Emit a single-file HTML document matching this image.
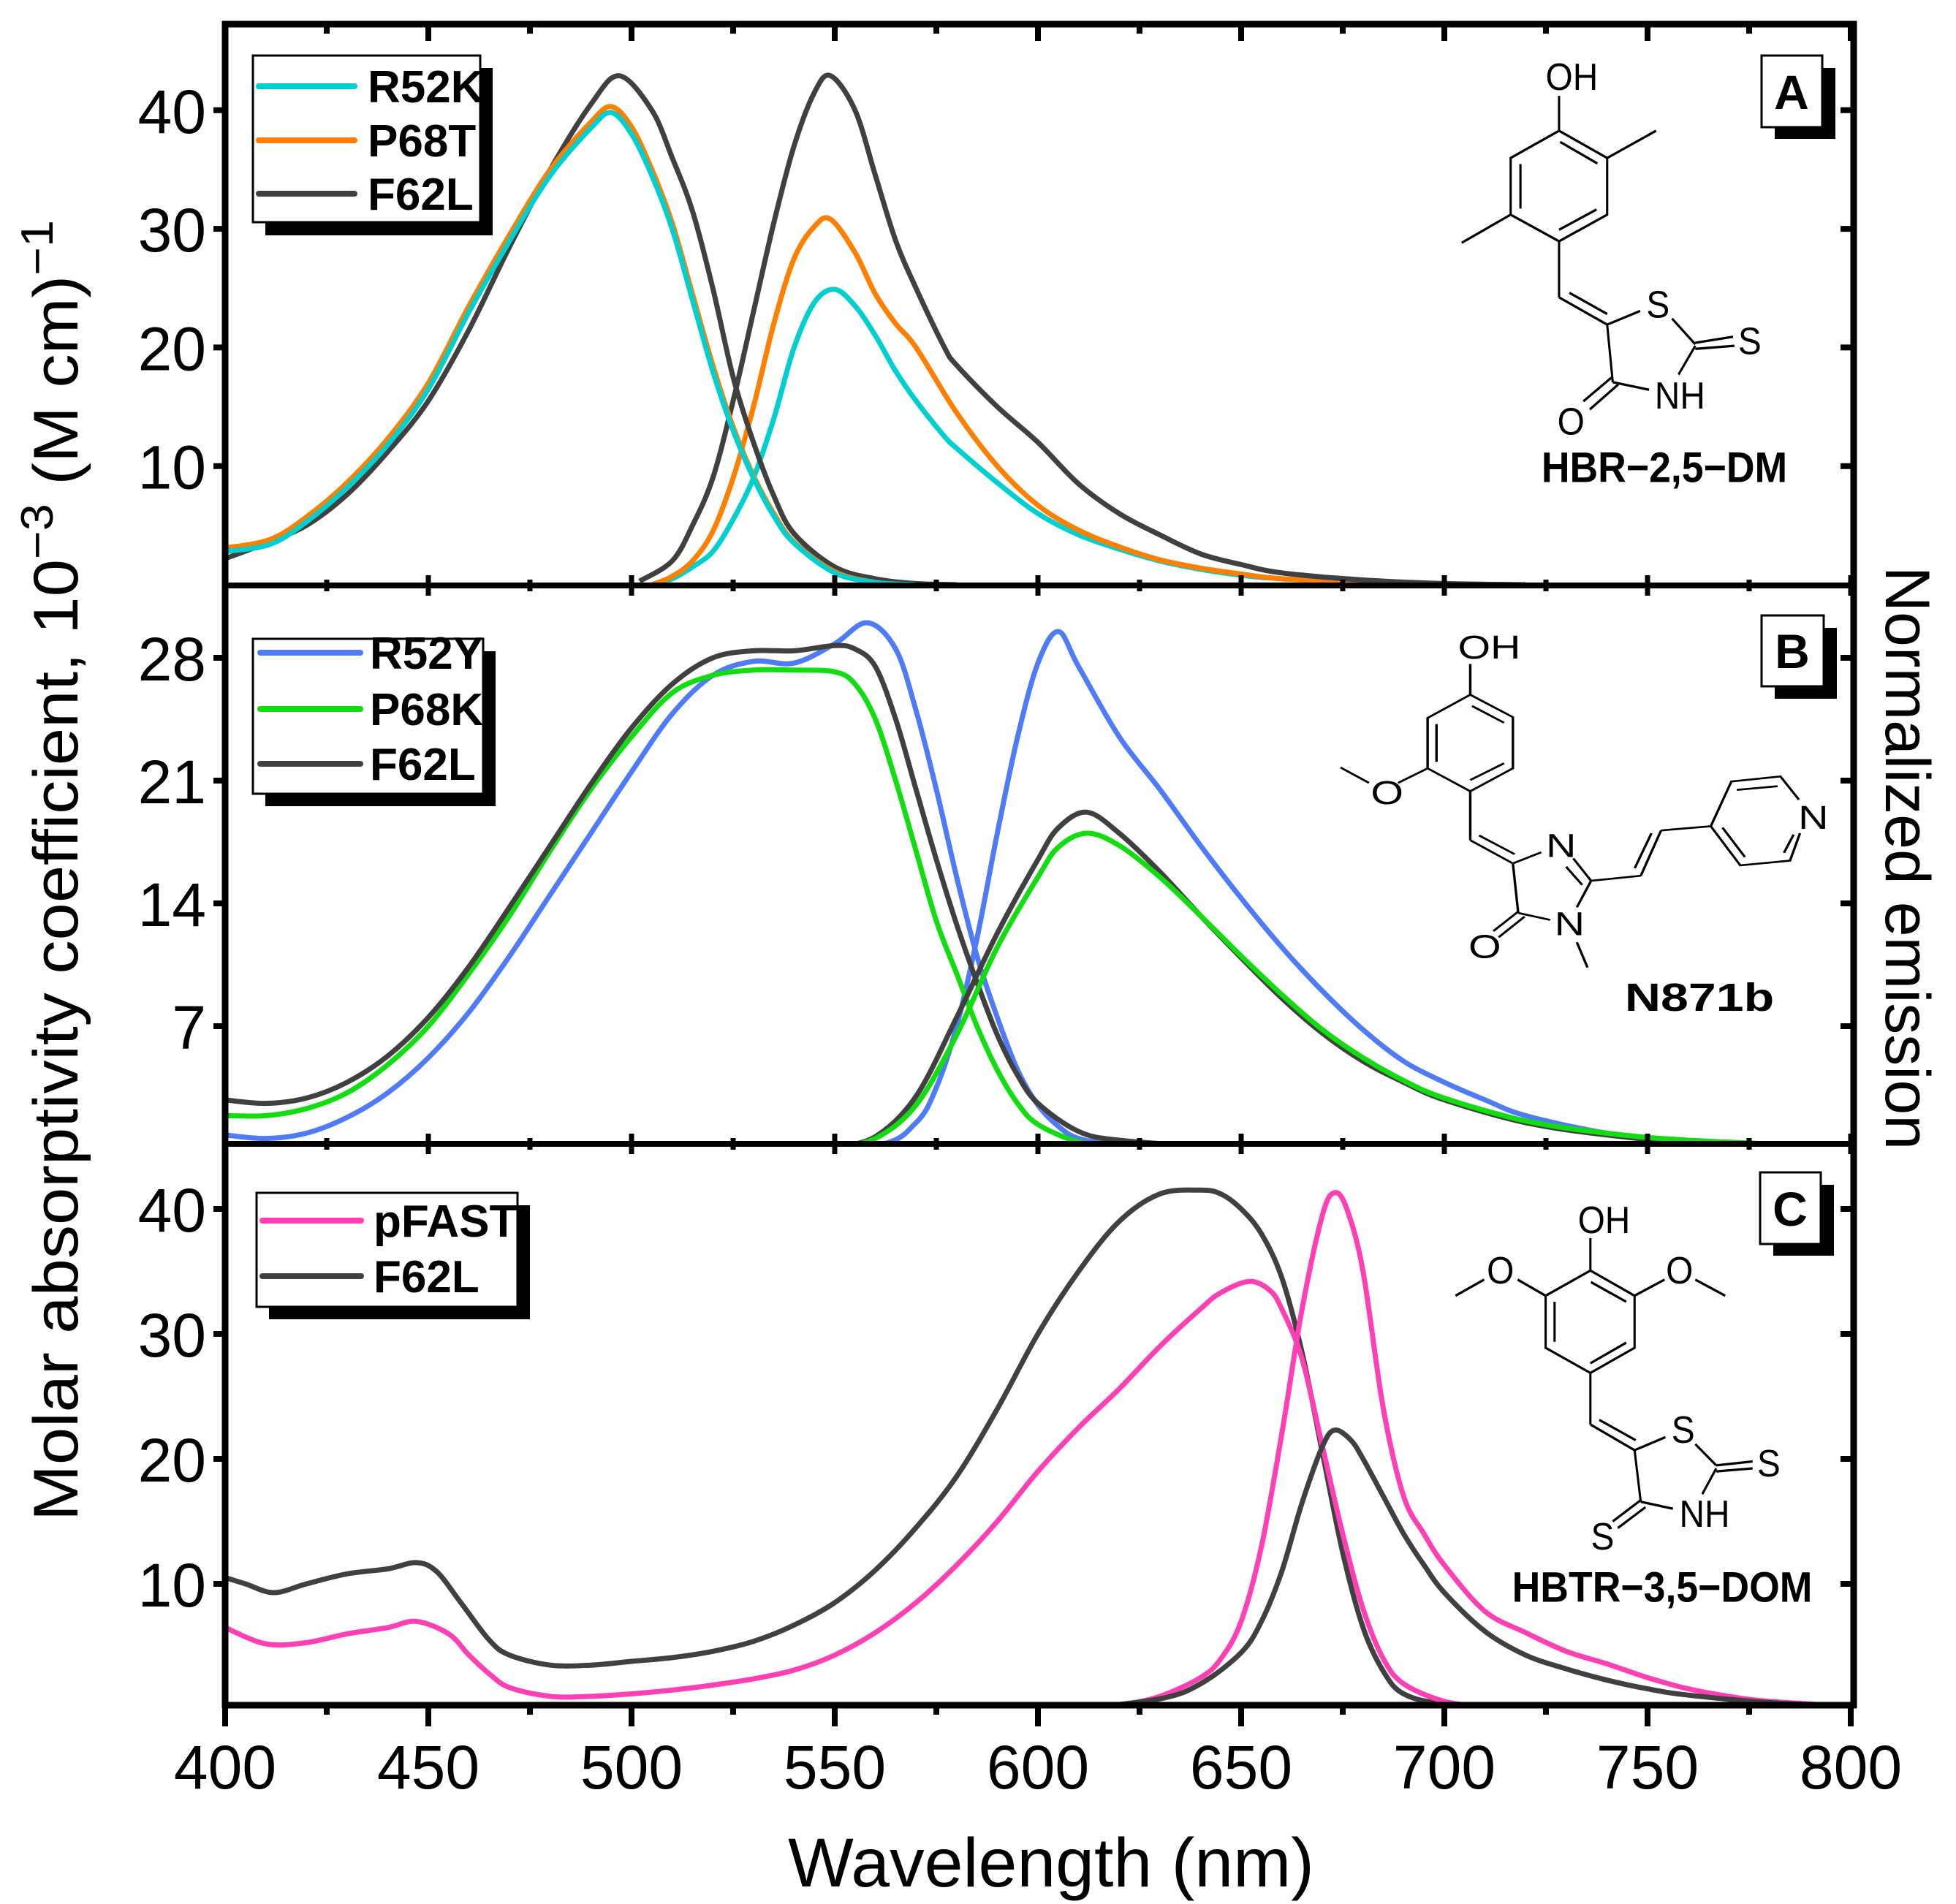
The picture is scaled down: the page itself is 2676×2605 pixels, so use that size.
<!DOCTYPE html>
<html><head><meta charset="utf-8"><style>
html,body{margin:0;padding:0;background:#fff;}
svg{display:block;font-family:"Liberation Sans",Arial,sans-serif;}
</style></head><body>
<svg id="chart" width="2676" height="2605" viewBox="0 0 2676 2605" xmlns="http://www.w3.org/2000/svg">
<defs>
<clipPath id="clipA"><rect x="308" y="33" width="2228" height="768"/></clipPath>
<clipPath id="clipB"><rect x="308" y="801" width="2228" height="764"/></clipPath>
<clipPath id="clipC"><rect x="308" y="1565" width="2228" height="768"/></clipPath>
</defs>
<g id="series"></g>
<g id="axes"></g>

<!-- Legend A -->
<g>
<rect x="363" y="93" width="311" height="229" fill="#000"/>
<rect x="346" y="76" width="311" height="228" fill="#fff" stroke="#000" stroke-width="3"/>
<line x1="354" y1="118" x2="485" y2="118" stroke="#00CFCF" stroke-width="8" stroke-linecap="round"/>
<line x1="354" y1="192" x2="485" y2="192" stroke="#FF8000" stroke-width="8" stroke-linecap="round"/>
<line x1="354" y1="265" x2="485" y2="265" stroke="#404040" stroke-width="8" stroke-linecap="round"/>
<text x="503" y="140" font-size="62" font-weight="bold">R52K</text>
<text x="503" y="214" font-size="62" font-weight="bold">P68T</text>
<text x="503" y="287" font-size="62" font-weight="bold">F62L</text>
</g>
<!-- Legend B -->
<g>
<rect x="363" y="891" width="315" height="212" fill="#000"/>
<rect x="346" y="874" width="315" height="212" fill="#fff" stroke="#000" stroke-width="3"/>
<line x1="356" y1="893" x2="493" y2="893" stroke="#4F7BF7" stroke-width="8" stroke-linecap="round"/>
<line x1="356" y1="970" x2="493" y2="970" stroke="#11DD11" stroke-width="8" stroke-linecap="round"/>
<line x1="356" y1="1045" x2="493" y2="1045" stroke="#404040" stroke-width="8" stroke-linecap="round"/>
<text x="506" y="915" font-size="62" font-weight="bold">R52Y</text>
<text x="506" y="992" font-size="62" font-weight="bold">P68K</text>
<text x="506" y="1067" font-size="62" font-weight="bold">F62L</text>
</g>
<!-- Legend C -->
<g>
<rect x="368" y="1649" width="357" height="156" fill="#000"/>
<rect x="351" y="1632" width="357" height="156" fill="#fff" stroke="#000" stroke-width="3"/>
<line x1="359" y1="1670" x2="494" y2="1670" stroke="#FF40B4" stroke-width="8" stroke-linecap="round"/>
<line x1="359" y1="1746" x2="494" y2="1746" stroke="#404040" stroke-width="8" stroke-linecap="round"/>
<text x="511" y="1692" font-size="62" font-weight="bold">pFAST</text>
<text x="511" y="1768" font-size="62" font-weight="bold">F62L</text>
</g>

<!-- Panel labels -->
<g>
<rect x="2428" y="93" width="83" height="97" fill="#000"/>
<rect x="2410" y="76" width="83" height="98" fill="#fff" stroke="#000" stroke-width="3"/>
<text x="2451" y="149" font-size="66" font-weight="bold" text-anchor="middle">A</text>
</g>
<g>
<rect x="2428" y="859" width="85" height="97" fill="#000"/>
<rect x="2410" y="842" width="85" height="97" fill="#fff" stroke="#000" stroke-width="3"/>
<text x="2452" y="914" font-size="66" font-weight="bold" text-anchor="middle">B</text>
</g>
<g>
<rect x="2426" y="1621" width="83" height="97" fill="#000"/>
<rect x="2408" y="1604" width="83" height="98" fill="#fff" stroke="#000" stroke-width="3"/>
<text x="2449" y="1677" font-size="66" font-weight="bold" text-anchor="middle">C</text>
</g>

<!-- Molecule A -->
<g transform="translate(1950,40) scale(0.3827,0.4145)" stroke="#000" stroke-width="8" fill="none">
<polyline points="478,220 478,335"/>
<polygon points="478,335 650,425 650,612 478,700 305,612 305,425"/>
<line x1="482" y1="372" x2="615" y2="443"/><line x1="340" y1="445" x2="340" y2="592"/><line x1="478" y1="662" x2="612" y2="595"/>
<line x1="650" y1="425" x2="825" y2="335"/><line x1="305" y1="612" x2="130" y2="705"/>
<line x1="478" y1="700" x2="478" y2="885"/><line x1="478" y1="885" x2="650" y2="975"/><line x1="515" y1="870" x2="650" y2="940"/>
<line x1="650" y1="975" x2="768" y2="930"/><line x1="882" y1="955" x2="965" y2="1040"/>
<line x1="965" y1="1035" x2="1100" y2="1015"/><line x1="965" y1="1055" x2="1105" y2="1045"/>
<line x1="965" y1="1045" x2="905" y2="1140"/>
<line x1="650" y1="975" x2="670" y2="1165"/><line x1="670" y1="1165" x2="800" y2="1190"/>
<line x1="690" y1="1172" x2="588" y2="1255"/><line x1="665" y1="1150" x2="565" y2="1228"/>
<g fill="#000" stroke="none" font-size="125">
<text x="430" y="200">OH</text><text x="790" y="952">S</text><text x="1118" y="1072">S</text><text x="820" y="1252">NH</text><text x="472" y="1338">O</text>
<text x="415" y="1495" font-size="140" font-weight="bold">HBR−2,5−DM</text>
</g>
</g>

<!-- Molecule B -->
<g transform="translate(1800,830) scale(0.4861,0.3827)" stroke="#000" stroke-width="7" fill="none">
<line x1="435" y1="205" x2="435" y2="315"/>
<polygon points="435,315 555,395 555,578 435,660 315,578 315,398"/>
<line x1="440" y1="355" x2="530" y2="415"/><line x1="340" y1="420" x2="340" y2="555"/><line x1="435" y1="620" x2="530" y2="560"/>
<line x1="315" y1="578" x2="232" y2="630"/><line x1="150" y1="630" x2="70" y2="575"/>
<line x1="435" y1="660" x2="435" y2="835"/><line x1="435" y1="835" x2="555" y2="918"/><line x1="460" y1="818" x2="560" y2="885"/>
<line x1="555" y1="918" x2="635" y2="878"/>
<line x1="725" y1="900" x2="775" y2="980"/><line x1="705" y1="930" x2="750" y2="995"/>
<line x1="775" y1="980" x2="735" y2="1075"/>
<line x1="555" y1="918" x2="570" y2="1095"/><line x1="570" y1="1095" x2="660" y2="1120"/>
<line x1="570" y1="1090" x2="500" y2="1160"/><line x1="588" y1="1108" x2="515" y2="1182"/>
<line x1="735" y1="1200" x2="765" y2="1290"/>
<line x1="775" y1="980" x2="915" y2="962"/><line x1="915" y1="962" x2="972" y2="800"/><line x1="898" y1="935" x2="945" y2="810"/><line x1="972" y1="800" x2="1112" y2="785"/>
<polyline points="1360,690 1308,607 1170,625 1112,785 1195,925 1335,908 1363,810"/>
<line x1="1185" y1="655" x2="1300" y2="642"/><line x1="1318" y1="880" x2="1345" y2="815"/><line x1="1145" y1="790" x2="1208" y2="895"/>
<g fill="#000" stroke="none" font-size="118">
<text x="400" y="185">OH</text><text x="155" y="705">O</text><text x="648" y="895">N</text><text x="672" y="1175">N</text><text x="430" y="1255">O</text><text x="1358" y="795">N</text>
<text x="870" y="1445" font-size="140" font-weight="bold">N871b</text>
</g>
</g>

<!-- Molecule C -->
<g transform="translate(1950,1580) scale(0.3827,0.4145)" stroke="#000" stroke-width="8" fill="none">
<line x1="590" y1="275" x2="590" y2="382"/>
<polygon points="590,382 748,465 748,637 590,720 430,637 430,465"/>
<line x1="592" y1="420" x2="718" y2="485"/><line x1="462" y1="485" x2="462" y2="617"/><line x1="590" y1="688" x2="718" y2="620"/>
<line x1="430" y1="465" x2="330" y2="412"/><line x1="210" y1="412" x2="108" y2="465"/>
<line x1="748" y1="465" x2="855" y2="412"/><line x1="965" y1="412" x2="1072" y2="465"/>
<line x1="590" y1="720" x2="590" y2="890"/><line x1="590" y1="890" x2="748" y2="975"/><line x1="622" y1="875" x2="752" y2="942"/>
<line x1="748" y1="975" x2="858" y2="932"/><line x1="965" y1="955" x2="1040" y2="1025"/>
<line x1="1040" y1="1025" x2="1170" y2="1012"/><line x1="1040" y1="1045" x2="1170" y2="1035"/>
<line x1="1040" y1="1035" x2="990" y2="1120"/>
<line x1="748" y1="975" x2="770" y2="1145"/><line x1="770" y1="1145" x2="885" y2="1168"/>
<line x1="770" y1="1140" x2="670" y2="1210"/><line x1="787" y1="1163" x2="688" y2="1232"/>
<g fill="#000" stroke="none" font-size="125">
<text x="545" y="258">OH</text><text x="220" y="425">O</text><text x="860" y="425">O</text><text x="880" y="950">S</text><text x="1186" y="1062">S</text><text x="908" y="1228">NH</text><text x="592" y="1303">S</text>
<text x="310" y="1475" font-size="140" font-weight="bold">HBTR−3,5−DOM</text>
</g>
</g>

<!-- Axis titles -->
<text x="1438" y="2581" font-size="95" text-anchor="middle">Wavelength (nm)</text>
<text transform="translate(106,1191) rotate(-90)" font-size="86" text-anchor="middle" textLength="1780" lengthAdjust="spacingAndGlyphs">Molar absorptivity coefficient, 10<tspan font-size="62" dy="-34">−3</tspan><tspan dy="34"> (M cm)</tspan><tspan font-size="62" dy="-34">−1</tspan></text>
<text transform="translate(2580,1174) rotate(90)" font-size="86" text-anchor="middle">Normalized emission</text>
</svg>
<script>
// ---------- data ----------
// Panel A
const aR52KAbsWl = [400,411,420,430,440,450,460,470,480,490,495,500,505,510,515,520,525,530,535,540,550,560,570];
const aR52KAbsVal = [2.8,3.4,5.3,8.2,11.8,16.5,23,29,34.5,38.5,39.8,38,34.5,30,24,18,13,9,5.8,3.5,1,0.2,0];
const aP68TAbsWl = [400,411,420,430,440,450,460,470,480,490,495,500,505,510,515,520,525,530,535,540,550,560,570];
const aP68TAbsVal = [3.1,3.8,5.7,8.6,12.3,17,23.5,29.5,35,39,40.3,38.6,35,30.5,24.5,18.5,13.3,9.2,6,3.6,1.1,0.2,0];
const aF62LAbsWl = [400,410,420,430,440,450,460,470,480,490,497,505,510,515,520,525,530,535,540,550,560,570,580];
const aF62LAbsVal = [2.2,3.5,5,7.6,11.2,15.5,21.5,28.5,35,40.5,42.9,40,36,31.5,25,17.5,12,7.5,4.3,1.5,0.5,0.1,0];
const aR52KEmWl = [505,510,515,520,525,530,535,540,545,550,555,560,565,570,577,580,590,600,610,620,630,640,650,660,680,700];
const aR52KEmVal = [0,0.5,1.5,2.8,5.5,9,14,20,23.8,24.9,23.5,21,18,15.5,12.5,11.5,8.6,6,4.2,3,2,1.3,0.8,0.5,0.2,0];
const aP68TEmWl = [505,510,515,520,525,530,535,540,545,549,555,560,565,570,580,590,600,610,620,630,640,650,660,680,700];
const aP68TEmVal = [0,0.7,2,4.5,9,15,22,27.5,30.2,30.8,28,24.5,22,20,14.5,10,6.7,4.6,3.2,2.1,1.4,0.9,0.5,0.2,0];
const aF62LEmWl = [502,510,515,520,525,530,535,540,545,549,555,560,565,570,577,580,590,600,610,620,630,640,650,660,680,700,720];
const aF62LEmVal = [0.3,2,5,9,15.5,23,30.5,37,41.5,42.9,40,34.5,29,25,20,18.5,15,12,8.5,6,4.2,2.6,1.7,1.0,0.4,0.1,0];
// Panel B
const bR52YAbsWl = [400,410,420,430,440,450,460,470,480,490,500,510,520,530,540,550,558,565,570,575,580,585,590,595,600,605,610,620,630];
const bR52YAbsVal = [0.8,0.6,0.9,1.8,3.2,5.2,7.8,11,14.5,18,21.5,24.8,27,27.8,27.7,28.8,30,28.5,25,20.5,15.5,11,7.5,4.5,2.5,1.3,0.6,0.2,0];
const bP68KAbsWl = [400,410,420,430,440,450,460,470,480,490,500,510,520,530,540,550,555,560,565,570,575,580,585,590,595,600,610,620];
const bP68KAbsVal = [1.9,1.9,2.3,3.2,4.8,7,10,13.3,17,20.5,23.5,26,27,27.3,27.3,27.2,26.5,24.5,21,17,13,10,7,4.5,2.6,1.4,0.4,0.1];
const bF62LAbsWl = [400,410,420,430,440,450,460,470,480,490,500,510,520,530,540,550,555,560,565,570,575,580,585,590,595,600,610,620,640,680];
const bF62LAbsVal = [2.8,2.6,2.9,3.8,5.3,7.5,10.4,13.8,17.3,20.8,24,26.5,28,28.4,28.4,28.7,28.5,27.5,24.5,20.5,16.5,12.8,9.5,6.5,4.2,2.6,1,0.5,0.2,0];
const bR52YEmWl = [530,560,570,575,580,585,590,595,600,605,610,620,630,640,650,660,670,680,690,700,710,720,740,760,800];
const bR52YEmVal = [0,0.2,1.5,3.5,7,12,18,23.5,27.7,29.5,27.5,23.5,20.5,17.3,14.3,11.5,9,6.8,5,3.8,2.8,1.9,0.9,0.4,0];
const bP68KEmWl = [550,560,570,580,590,600,605,612,620,630,640,650,660,670,680,690,700,720,740,760,800];
const bP68KEmVal = [0.1,0.6,2.5,6.5,11.5,15.5,17.2,18,17.3,15.5,13.3,11,8.8,6.8,5.2,3.9,2.9,1.6,0.9,0.5,0.1];
const bF62LEmWl = [550,560,570,580,590,600,605,612,620,630,640,650,660,670,680,690,700,720,740,760,800];
const bF62LEmVal = [0.1,0.7,3,7.5,12.3,16.5,18.3,19.2,18,15.8,13.3,10.9,8.6,6.6,5,3.8,2.8,1.5,0.8,0.4,0.1];
// Panel C
const cPfastAbsWl = [400,410,420,430,440,447,455,460,465,470,480,490,500,510,520,530,540,550,560,570,580,590,600,610,620,630,640,645,652,657,660,665,670,675,680,685,690,700,710,720];
const cPfastAbsVal = [6.5,5.2,5.3,6,6.5,7,6,4.3,2.8,1.7,1,1,1.2,1.5,1.9,2.4,3.1,4.3,6.1,8.5,11.5,15,19,22.5,25.6,29,32,33.3,34.2,33.5,32,28,21,14,8,4,2,0.6,0.2,0];
const cF62LAbsWl = [400,405,412,420,430,440,447,452,458,465,470,480,490,500,510,520,530,540,550,560,570,580,590,600,610,620,630,640,645,650,655,660,665,670,675,680,685,690,700,720];
const cF62LAbsVal = [10.5,10,9.3,10,10.8,11.2,11.7,11,8.5,5.5,4.3,3.5,3.5,3.8,4.1,4.6,5.4,6.7,8.5,11.1,14.5,18.6,24,30,35,39,41.2,41.5,41.2,40,38,34.5,28.5,20.5,12.5,6.5,3,1.2,0.4,0.1];
const cPfastEmWl = [610,620,630,640,645,650,655,660,665,670,673,676,680,685,690,695,700,710,720,730,740,750,760,770,780,800];
const cPfastEmVal = [0.1,0.3,1,2.5,4,7,13,22,32,39.5,41.3,40,35,24,17,14,11.5,7.8,6.1,4.6,3.6,2.5,1.6,1,0.6,0.2];
const cF62LEmWl = [610,630,640,650,655,660,665,670,673,677,680,685,690,695,700,710,720,730,740,750,760,780,800];
const cF62LEmVal = [0,0.8,2,4.5,7,11,16.5,21,22.3,21.5,20,17,14,11.5,9.3,6.2,4.3,3.2,2.3,1.6,1.1,0.5,0.2];
// Tick labels
const xTicks = [400,450,500,550,600,650,700,750,800];
const aYTicks = [10,20,30,40];
const bYTicks = [7,14,21,28];
const cYTicks = [10,20,30,40];

// ---------- scales ----------
const NS = 'http://www.w3.org/2000/svg';
const X0 = 308, X1 = 2536;
function xScale(nm){ return 308 + (nm - 400) * 5.56; }
const panels = {
  a: {top:33, bottom:801, y0:800, k:16.23, clip:'clipA'},
  b: {top:801, bottom:1565, y0:1572, k:24, clip:'clipB'},
  c: {top:1565, bottom:2333, y0:2338, k:17.1, clip:'clipC'}
};
function yScale(p, v){ return panels[p].y0 - v * panels[p].k; }

function smoothPath(pts){
  let d = 'M' + pts[0][0].toFixed(1) + ',' + pts[0][1].toFixed(1);
  for (let i = 0; i < pts.length - 1; i++){
    const p0 = pts[i-1] || pts[i], p1 = pts[i], p2 = pts[i+1], p3 = pts[i+2] || p2;
    const c1x = p1[0] + (p2[0]-p0[0])/6, c1y = p1[1] + (p2[1]-p0[1])/6;
    const c2x = p2[0] - (p3[0]-p1[0])/6, c2y = p2[1] - (p3[1]-p1[1])/6;
    d += ' C' + c1x.toFixed(1)+','+c1y.toFixed(1)+' '+c2x.toFixed(1)+','+c2y.toFixed(1)+' '+p2[0].toFixed(1)+','+p2[1].toFixed(1);
  }
  return d;
}
const seriesG = document.getElementById('series');
function drawSeries(p, wl, vals, color, name){
  const pts = wl.map((w, i) => [xScale(w), yScale(p, vals[i])]);
  const path = document.createElementNS(NS, 'path');
  path.setAttribute('d', smoothPath(pts));
  path.setAttribute('fill', 'none');
  path.setAttribute('stroke', color);
  path.setAttribute('stroke-width', '7');
  path.setAttribute('stroke-linejoin', 'round');
  path.setAttribute('clip-path', 'url(#' + panels[p].clip + ')');
  
  
  seriesG.appendChild(path);
}
const TEAL='#00CFCF', ORANGE='#FF8000', DARK='#404040', BLUE='#4F7BF7', GREEN='#11DD11', PINK='#FF40B4';
drawSeries('a', aR52KEmWl, aR52KEmVal, TEAL, 'r52k-emission-line');
drawSeries('a', aP68TEmWl, aP68TEmVal, ORANGE, 'p68t-emission-line');
drawSeries('a', aF62LEmWl, aF62LEmVal, DARK, 'f62l-a-emission-line');
drawSeries('a', aF62LAbsWl, aF62LAbsVal, DARK, 'f62l-a-absorption-line');
drawSeries('a', aP68TAbsWl, aP68TAbsVal, ORANGE, 'p68t-absorption-line');
drawSeries('a', aR52KAbsWl, aR52KAbsVal, TEAL, 'r52k-absorption-line');
drawSeries('b', bR52YAbsWl, bR52YAbsVal, BLUE, 'r52y-absorption-line');
drawSeries('b', bR52YEmWl, bR52YEmVal, BLUE, 'r52y-emission-line');
drawSeries('b', bP68KAbsWl, bP68KAbsVal, GREEN, 'p68k-absorption-line');
drawSeries('b', bF62LAbsWl, bF62LAbsVal, DARK, 'f62l-b-absorption-line');
drawSeries('b', bF62LEmWl, bF62LEmVal, DARK, 'f62l-b-emission-line');
drawSeries('b', bP68KEmWl, bP68KEmVal, GREEN, 'p68k-emission-line');
drawSeries('c', cF62LAbsWl, cF62LAbsVal, DARK, 'f62l-c-absorption-line');
drawSeries('c', cPfastAbsWl, cPfastAbsVal, PINK, 'pfast-absorption-line');
drawSeries('c', cPfastEmWl, cPfastEmVal, PINK, 'pfast-emission-line');
drawSeries('c', cF62LEmWl, cF62LEmVal, DARK, 'f62l-c-emission-line');

// ---------- axes ----------
const axesG = document.getElementById('axes');
function ln(x1,y1,x2,y2,w,name){
  const l = document.createElementNS(NS,'line');
  l.setAttribute('x1',x1); l.setAttribute('y1',y1); l.setAttribute('x2',x2); l.setAttribute('y2',y2);
  l.setAttribute('stroke','#000'); l.setAttribute('stroke-width',w);
  
  
  axesG.appendChild(l);
}
function txt(x,y,s,anchor,name){
  const t = document.createElementNS(NS,'text');
  t.setAttribute('x',x); t.setAttribute('y',y); t.setAttribute('font-size','84');
  t.setAttribute('text-anchor',anchor); t.textContent = s;
  
  
  axesG.appendChild(t);
}
ln(X0, 29, X0, 2337, 9, 'left-axis');
ln(X1, 29, X1, 2337, 9, 'right-axis');
ln(X0-4, 33, X1+4, 33, 9, 'top-axis');
ln(X0-4, 2333, X1+4, 2333, 9, 'bottom-axis');
ln(X0, 801, X1, 801, 8, 'panel-divider-ab');
ln(X0, 1565, X1, 1565, 8, 'panel-divider-bc');
for (let nm = 400; nm <= 800; nm += 25){
  const x = xScale(nm), major = nm % 50 === 0;
  ln(x, 2333, x, major ? 2362 : 2346, 8, 'x-tick');
  ln(x, 33, x, major ? 56 : 46, 8, 'top-tick');
  [801, 1565].forEach(yy => { ln(x, yy - (major?14:8), x, yy + (major?14:8), 7, 'divider-tick'); });
}
xTicks.forEach(v => txt(xScale(v), 2447, String(v), 'middle', 'x-tick-label'));
[['a', aYTicks], ['b', bYTicks], ['c', cYTicks]].forEach(([p, ticks]) => {
  ticks.forEach(v => {
    const y = yScale(p, v);
    ln(X0 - 16, y, X0, y, 8, 'y-tick');
    ln(X1 - 18, y, X1, y, 8, 'right-tick');
    txt(282, y + 31, String(v), 'end', 'y-tick-label');
  });
});
</script>
</body></html>
